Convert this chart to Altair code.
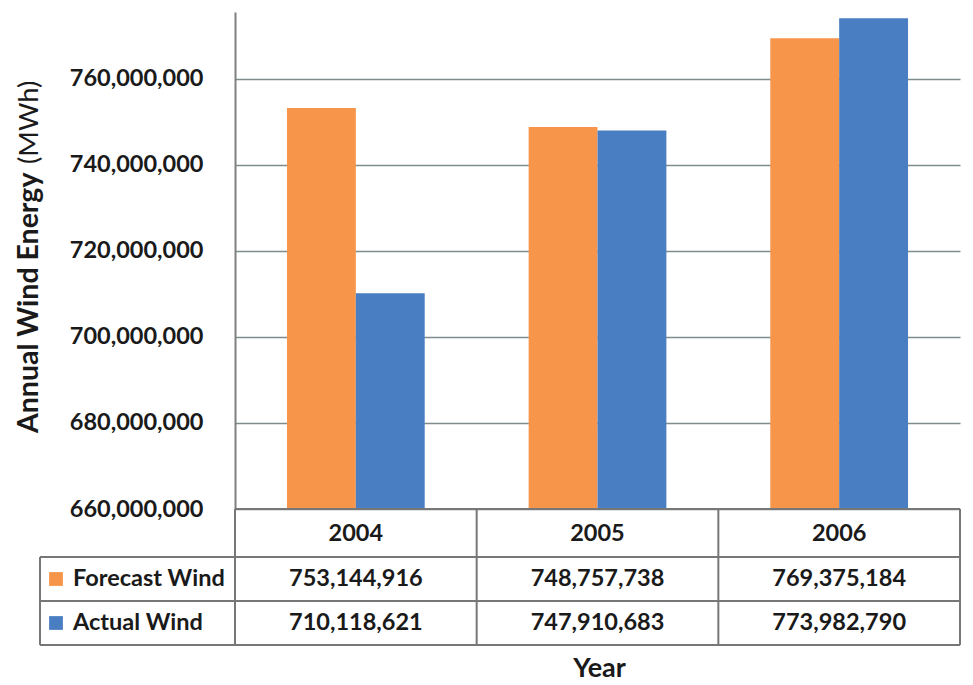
import altair as alt
import pandas as pd

years = ["2004", "2005", "2006"]
series_names = ["Forecast Wind", "Actual Wind"]
forecast = [753144916, 748757738, 769375184]
actual = [710118621, 747910683, 773982790]
y_ticks = [660000000, 680000000, 700000000, 720000000, 740000000, 760000000]
colors = ["#F7964A", "#4A7EC3"]

W, H = 725, 497
FONT = "Lato"
TXT = "#1a1a1a"
GRID = "#7f8c8c"
FS = 23.5

rows = []
for i, yr in enumerate(years):
    rows.append({"year": yr, "series": series_names[0], "value": forecast[i]})
    rows.append({"year": yr, "series": series_names[1], "value": actual[i]})
df = pd.DataFrame(rows)

xscale = alt.Scale(domain=years, paddingInner=0.43, paddingOuter=0.215)
color_scale = alt.Scale(domain=series_names, range=colors)

bars = alt.Chart(df).mark_bar().encode(
    x=alt.X("year:N", scale=xscale, axis=None),
    xOffset=alt.XOffset("series:N", scale=alt.Scale(domain=series_names)),
    y=alt.Y("value:Q",
            scale=alt.Scale(domain=[660000000, 775450000], zero=False, nice=False),
            axis=alt.Axis(values=y_ticks, format=",d", title=None, grid=True,
                          gridColor=GRID, gridWidth=1.5, domainColor="#808080",
                          domainWidth=2, ticks=False, labelFont=FONT,
                          labelFontWeight="bold", labelFontSize=FS,
                          labelColor=TXT, labelPadding=32)),
    y2=alt.datum(660000000),
    color=alt.Color("series:N", scale=color_scale, legend=None),
)

# table borders (layout, pixels)
R0, R1, R2, R3 = H, 545, 589, 633
LEFT = -195
segs = [
    (0, W, R0, R0), (LEFT, W, R1, R1), (LEFT, W, R2, R2), (LEFT, W, R3, R3),
    (LEFT, LEFT, R1, R3), (0, 0, R0, R3), (W / 3, W / 3, R0, R3),
    (2 * W / 3, 2 * W / 3, R0, R3), (W, W, R0, R3),
]
seg_df = pd.DataFrame(segs, columns=["x", "x2", "y", "y2"])
borders = alt.Chart(seg_df).mark_rule(color="#777777", strokeWidth=2).encode(
    x=alt.X("x:Q", scale=None), x2="x2:Q",
    y=alt.Y("y:Q", scale=None), y2="y2:Q",
)

year_df = pd.DataFrame({"year": years})
year_txt = alt.Chart(year_df).mark_text(
    font=FONT, fontWeight="bold", fontSize=FS, color=TXT, baseline="middle"
).encode(x=alt.X("year:N", scale=xscale), y=alt.value((R0 + R1) / 2 + 1), text="year:N")

val_layers = []
legend_layers = []
for k, s in enumerate(series_names):
    ypos = (R1 + R2) / 2 if k == 0 else (R2 + R3) / 2
    sub = df[df.series == s]
    val_layers.append(alt.Chart(sub).mark_text(
        font=FONT, fontWeight="bold", fontSize=FS, color=TXT, baseline="middle"
    ).encode(x=alt.X("year:N", scale=xscale), y=alt.value(ypos),
             text=alt.Text("value:Q", format=",d")))
    ldf = pd.DataFrame({"series": [s]})
    legend_layers.append(alt.Chart(ldf).mark_square(size=190, opacity=1).encode(
        x=alt.value(-179), y=alt.value(ypos),
        color=alt.Color("series:N", scale=color_scale, legend=None)))
    legend_layers.append(alt.Chart(ldf).mark_text(
        font=FONT, fontWeight="bold", fontSize=FS, color=TXT, align="left",
        baseline="middle").encode(x=alt.value(-162), y=alt.value(ypos), text="series:N"))

title_df = pd.DataFrame({"t1": ["Annual Wind Energy"], "t2": ["(MWh)"], "t3": ["Year"]})
ytitle1 = alt.Chart(title_df).mark_text(
    font=FONT, fontWeight="bold", fontSize=28.5, color=TXT, angle=270, align="left",
    baseline="alphabetic").encode(x=alt.value(-197), y=alt.value(421), text="t1:N")
ytitle2 = alt.Chart(title_df).mark_text(
    font=FONT, fontWeight="normal", fontSize=27.5, color=TXT, angle=270, align="left",
    baseline="alphabetic").encode(x=alt.value(-197), y=alt.value(152), text="t2:N")
xtitle = alt.Chart(title_df).mark_text(
    font=FONT, fontWeight="bold", fontSize=27, color=TXT, baseline="alphabetic"
).encode(x=alt.value(W / 2 + 2), y=alt.value(665), text="t3:N")

chart = alt.layer(bars, borders, year_txt, *val_layers, *legend_layers,
                  ytitle1, ytitle2, xtitle).properties(
    width=W, height=H,
    autosize=alt.AutoSizeParams(type="none"),
    padding={"left": 227, "top": 4, "right": 5, "bottom": 174},
    background="white",
).configure_view(stroke=None)

chart.save("out.html", embed_options={"renderer": "svg", "actions": False})
